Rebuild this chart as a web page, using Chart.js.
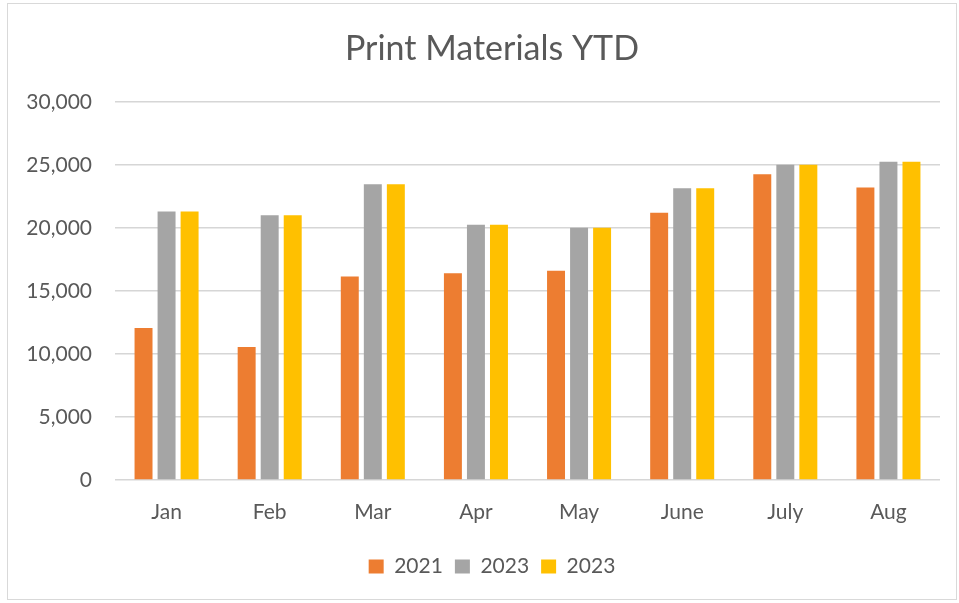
<!DOCTYPE html>
<html>
<head>
<meta charset="utf-8">
<script src="https://cdn.jsdelivr.net/npm/chart.js@4"></script>
<style>
  body { margin: 0; background: #fff; }
  #wrap { position: relative; width: 959px; height: 603px; }
  #frame { position: absolute; left: 7px; top: 3px; width: 950px; height: 597px; border: 1px solid #d9d9d9; box-sizing: border-box; }
  canvas { position: absolute; left: 0; top: 0; }
</style>
</head>
<body>
<div id="wrap">
  <div id="frame"></div>
  <canvas id="printChart" width="959" height="603"></canvas>
</div>
<script>
// Chart data
const months = ['Jan', 'Feb', 'Mar', 'Apr', 'May', 'June', 'July', 'Aug'];
const values2021 = [12050, 10550, 16150, 16400, 16600, 21200, 24250, 23200];
const values2023a = [21300, 21000, 23450, 20250, 20000, 23150, 25000, 25250];
const values2023b = [21300, 21000, 23450, 20250, 20000, 23150, 25000, 25250];
const seriesLabels = ['2021', '2023', '2023'];
const yTicks = { min: 0, max: 30000, step: 5000 };

const textColor = '#595959';
const fontFamily = 'Lato, "Open Sans", sans-serif';

// Center title and legend over the frame rather than the whole canvas
const shiftBlocks = {
    id: 'shiftBlocks',
    afterLayout(chart) {
        [chart.titleBlock, chart.legend].forEach(b => {
            if (!b) return;
            b.left = 44;
            b.width = b.right - b.left;
        });
    }
};

function makeChart() {
    const ctx = document.getElementById('printChart').getContext('2d');
    new Chart(ctx, {
        type: 'bar',
        data: {
            labels: months,
            datasets: [
                { label: seriesLabels[0], data: values2021, backgroundColor: '#ED7D31' },
                { label: seriesLabels[1], data: values2023a, backgroundColor: '#A5A5A5' },
                { label: seriesLabels[2], data: values2023b, backgroundColor: '#FFC000' }
            ]
        },
        options: {
            responsive: false,
            animation: false,
            categoryPercentage: 0.67,
            barPercentage: 0.78,
            layout: { padding: { left: 0, right: 19, top: 0, bottom: 16 } },
            plugins: {
                title: {
                    display: true,
                    text: 'Print Materials YTD',
                    color: textColor,
                    font: { family: fontFamily, size: 34, weight: 'normal' },
                    padding: { top: 29, bottom: 32 }
                },
                legend: {
                    position: 'bottom',
                    labels: {
                        color: textColor,
                        font: { family: fontFamily, size: 21 },
                        boxWidth: 15,
                        boxHeight: 14,
                        padding: 12
                    }
                },
                tooltip: { enabled: false }
            },
            scales: {
                x: {
                    grid: { display: false },
                    border: { display: false },
                    ticks: { color: textColor, font: { family: fontFamily, size: 21 }, padding: 12 },
                    afterFit: scale => { scale.height = 64; }
                },
                y: {
                    min: yTicks.min,
                    max: yTicks.max,
                    grid: { color: '#d6d6d6', lineWidth: 1.5, drawTicks: false },
                    border: { display: false },
                    ticks: {
                        stepSize: yTicks.step,
                        color: textColor,
                        font: { family: fontFamily, size: 21 },
                        padding: 23,
                        callback: v => v.toLocaleString('en-US')
                    },
                    afterFit: scale => { scale.width = 115; }
                }
            }
        },
        plugins: [shiftBlocks]
    });
}

document.addEventListener('DOMContentLoaded', makeChart);
</script>
</body>
</html>
